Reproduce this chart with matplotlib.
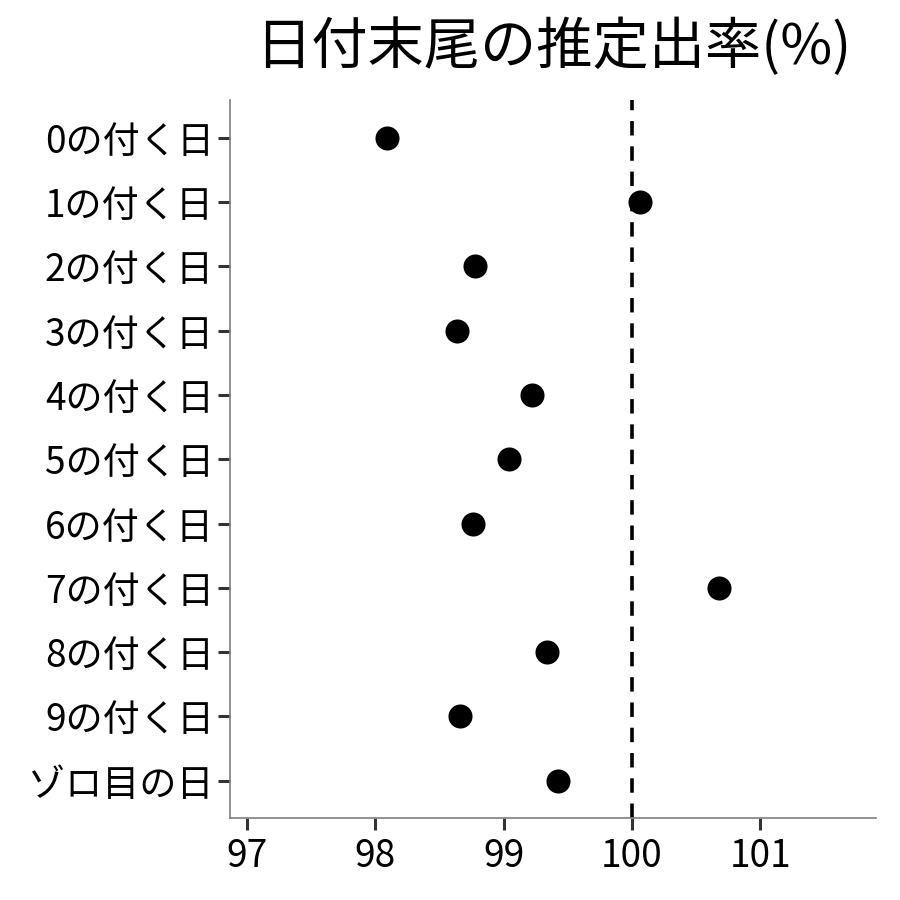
import matplotlib
matplotlib.use("Agg")
import matplotlib.pyplot as plt

plt.rcParams['font.family'] = ['Noto Sans CJK JP', 'DejaVu Sans']

labels = ['0の付く日', '1の付く日', '2の付く日', '3の付く日', '4の付く日',
          '5の付く日', '6の付く日', '7の付く日', '8の付く日', '9の付く日',
          'ゾロ目の日']
rates = [98.09, 100.06, 98.78, 98.64, 99.22, 99.04, 98.76, 100.68, 99.34,
         98.66, 99.42]
xticks = [97, 98, 99, 100, 101]

fig = plt.figure(figsize=(9, 9), dpi=100)
ax = fig.add_axes([0.2556, 0.0911, 0.7178, 0.7978])

ypos = list(range(len(labels)))
ax.scatter(rates, ypos, s=300, color='black', zorder=3, linewidths=0)
ax.axvline(100, color='black', lw=2.6, linestyle=(0, (4, 3)), zorder=2)

ax.set_xlim(96.87, 101.9)
ax.set_ylim(len(labels) - 0.42, -0.59)
ax.set_yticks(ypos)
ax.set_yticklabels(labels)
ax.set_xticks(xticks)
ax.set_xticklabels([str(t) for t in xticks])

for side in ['top', 'right']:
    ax.spines[side].set_visible(False)
for side in ['left', 'bottom']:
    ax.spines[side].set_color('#7f7f7f')
    ax.spines[side].set_linewidth(1.2)

ax.tick_params(axis='both', length=8.5, width=2.2, color='#333333',
               labelsize=26.7, labelcolor='black', pad=3)
ax.tick_params(axis='x', pad=5)

fig.suptitle('日付末尾の推定出率(%)', x=0.615, y=0.979, fontsize=40.5)

fig.savefig('out.png', dpi=100)
